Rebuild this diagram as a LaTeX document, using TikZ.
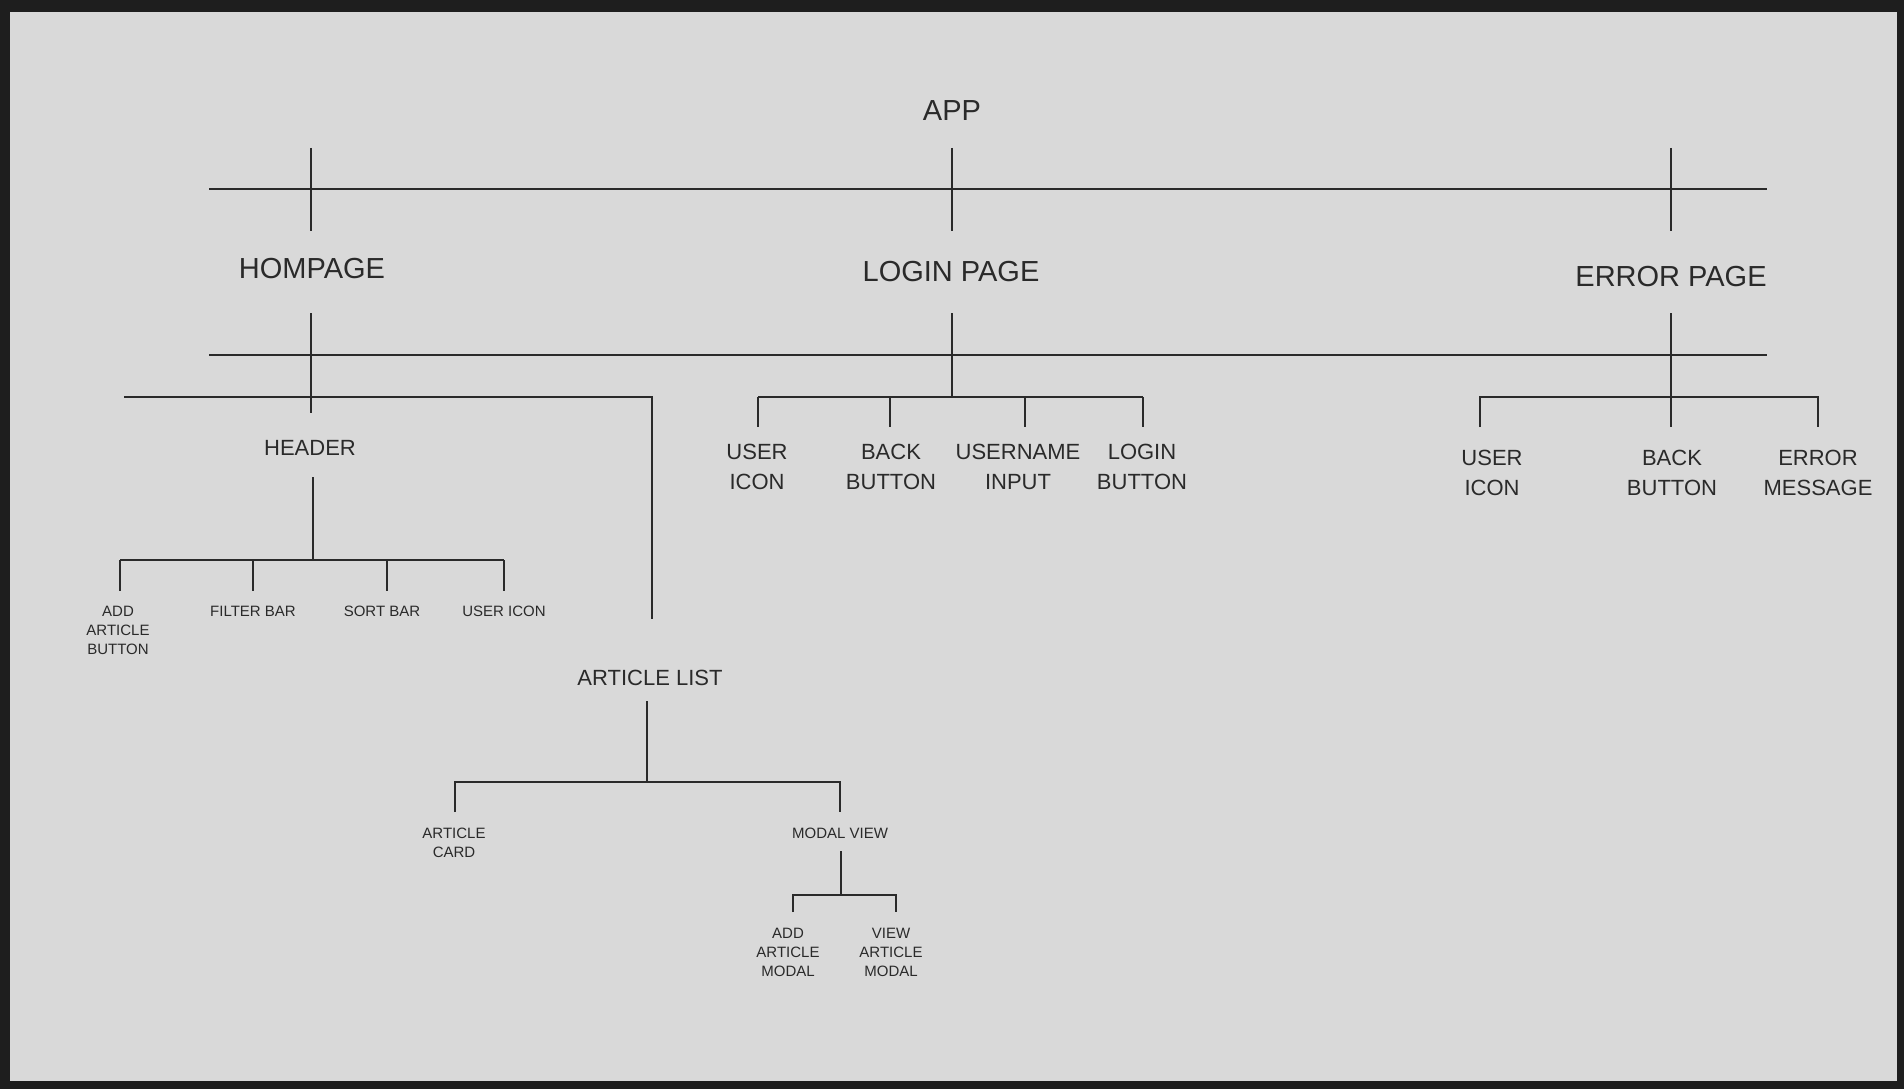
\documentclass[tikz,border=0pt]{standalone}
\usepackage{fontspec}
\setmainfont{Liberation Sans}
\definecolor{bg}{HTML}{D9D9D9}
\definecolor{framec}{HTML}{1E1E1E}
\definecolor{ink}{HTML}{2A2A2A}
\begin{document}
\begin{tikzpicture}[x=1pt,y=-1pt,
  line/.style={draw=ink, line width=1.8pt},
  lbl/.style={text=ink, inner sep=0pt, yshift=-1.5pt},
  big/.style={lbl, font=\fontsize{29}{34}\selectfont},
  mid/.style={lbl, align=center, font=\fontsize{22}{30}\selectfont},
  small/.style={lbl, align=center, font=\fontsize{15}{19}\selectfont}]
\fill[framec] (0,0) rectangle (1904,1089);
\fill[bg] (10,12) rectangle (1897,1081);
\useasboundingbox (0,0) rectangle (1904,1089);

% ---------- level 0 / 1 ----------
\node[big] (app) at (952,109) {APP};
\node[big] (home) at (312,267) {HOMPAGE};
\node[big] (login) at (951,270) {LOGIN PAGE};
\node[big] (err) at (1671,275) {ERROR PAGE};

\coordinate (bus1l) at (209,189);
\coordinate (bus1r) at (1767,189);
\draw[line] (bus1l) -- (bus1r);
\coordinate (t1a) at (311,148); \coordinate (t1b) at (311,231);
\coordinate (t2a) at (952,148); \coordinate (t2b) at (952,231);
\coordinate (t3a) at (1671,148); \coordinate (t3b) at (1671,231);
\draw[line] (t1a) -- (t1b);
\draw[line] (t2a) -- (t2b);
\draw[line] (t3a) -- (t3b);

\coordinate (bus2l) at (209,355);
\coordinate (bus2r) at (1767,355);
\draw[line] (bus2l) -- (bus2r);

% ---------- homepage ----------
\coordinate (homeA) at (311,313); \coordinate (homeB) at (311,413);
\draw[line] (homeA) -- (homeB);
\coordinate (hbl) at (124,397); \coordinate (hbr) at (652,397); \coordinate (hbd) at (652,619);
\draw[line] (hbl) -- (hbr) -- (hbd);

\node[mid] (header) at (310,446) {HEADER};
\coordinate (hdA) at (313,477); \coordinate (hdB) at (313,560);
\draw[line] (hdA) -- (hdB);
\coordinate (hdl) at (120,560); \coordinate (hdr) at (504,560);
\draw[line] (hdl) -- (hdr);
\node[small] (addbtn) at (118,629) {ADD\\ARTICLE\\BUTTON};
\node[small] (filter) at (253,610) {FILTER BAR};
\node[small] (sort) at (382,610) {SORT BAR};
\node[small] (uicon1) at (504,610) {USER ICON};
\coordinate (hk1) at (120,591); \coordinate (hk2) at (253,591);
\coordinate (hk3) at (387,591); \coordinate (hk4) at (504,591);
\coordinate (hj2) at (253,560); \coordinate (hj3) at (387,560);
\draw[line] (hdl) -- (hk1);
\draw[line] (hj2) -- (hk2);
\draw[line] (hj3) -- (hk3);
\draw[line] (hdr) -- (hk4);

\node[mid] (alist) at (650,676) {ARTICLE LIST};
\coordinate (alA) at (647,701); \coordinate (alB) at (647,782);
\draw[line] (alA) -- (alB);
\coordinate (all) at (455,782); \coordinate (alr) at (840,782);
\coordinate (alk1) at (455,812); \coordinate (alk2) at (840,812);
\draw[line] (alk1) -- (all) -- (alr) -- (alk2);
\node[small] (card) at (454,841.5) {ARTICLE\\CARD};
\node[small] (modal) at (840,832) {MODAL VIEW};
\coordinate (mvA) at (841,851); \coordinate (mvB) at (841,895);
\draw[line] (mvA) -- (mvB);
\coordinate (mvl) at (793,895); \coordinate (mvr) at (896,895);
\coordinate (mvk1) at (793,912); \coordinate (mvk2) at (896,912);
\draw[line] (mvk1) -- (mvl) -- (mvr) -- (mvk2);
\node[small] (addmodal) at (788,951) {ADD\\ARTICLE\\MODAL};
\node[small] (viewmodal) at (891,951) {VIEW\\ARTICLE\\MODAL};

% ---------- login page ----------
\coordinate (lgA) at (952,313); \coordinate (lgB) at (952,397);
\draw[line] (lgA) -- (lgB);
\coordinate (lgl) at (758,397); \coordinate (lgr) at (1143,397);
\draw[line] (lgl) -- (lgr);
\coordinate (lj2) at (890,397); \coordinate (lj3) at (1025,397);
\coordinate (lk1) at (758,427); \coordinate (lk2) at (890,427);
\coordinate (lk3) at (1025,427); \coordinate (lk4) at (1143,427);
\draw[line] (lgl) -- (lk1);
\draw[line] (lj2) -- (lk2);
\draw[line] (lj3) -- (lk3);
\draw[line] (lgr) -- (lk4);
\node[mid] (luser) at (757,465) {USER\\ICON};
\node[mid] (lback) at (891,465) {BACK\\BUTTON};
\node[mid] (lname) at (1018,465) {USERNAME\\INPUT};
\node[mid] (lbtn) at (1142,465) {LOGIN\\BUTTON};

% ---------- error page ----------
\coordinate (erA) at (1671,313); \coordinate (erB) at (1671,427);
\draw[line] (erA) -- (erB);
\coordinate (erl) at (1480,397); \coordinate (err) at (1818,397);
\coordinate (ek1) at (1480,427); \coordinate (ek3) at (1818,427);
\draw[line] (ek1) -- (erl) -- (err) -- (ek3);
\node[mid] (euser) at (1492,471.5) {USER\\ICON};
\node[mid] (eback) at (1672,471.5) {BACK\\BUTTON};
\node[mid] (emsg) at (1818,471.5) {ERROR\\MESSAGE};
\end{tikzpicture}
\end{document}
